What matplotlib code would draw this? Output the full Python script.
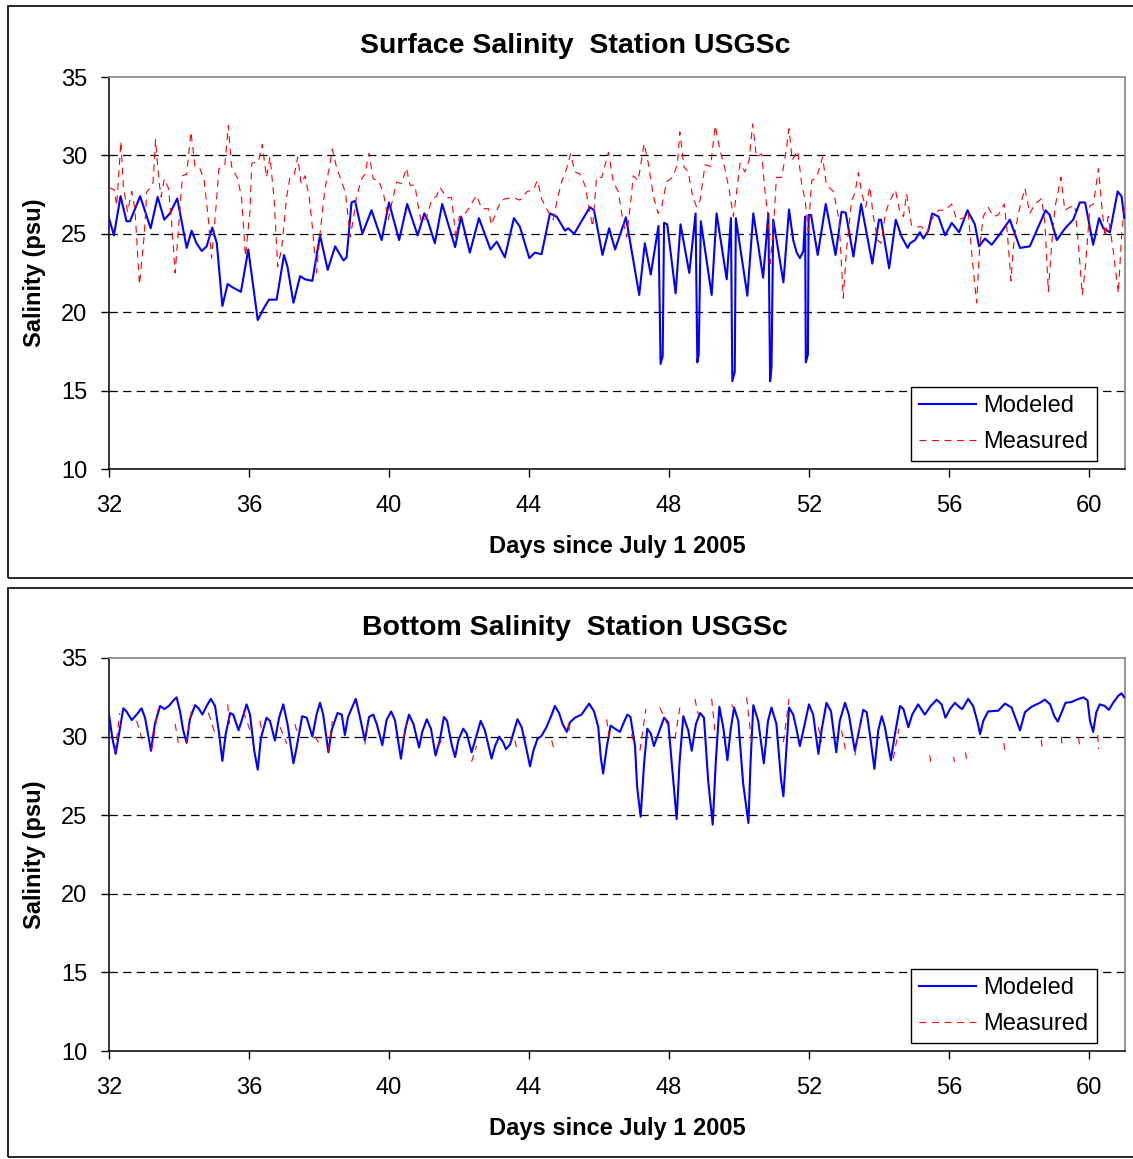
import matplotlib
matplotlib.use("Agg")

import numpy as np
import matplotlib.pyplot as plt
import matplotlib.patches as patches

# ======================
# Data
# ======================

surf_mod_day = [
    32.00, 32.14, 32.33, 32.50, 32.60, 32.89, 33.19, 33.39, 33.58, 33.74, 33.95, 34.22, 34.36, 34.50,
    34.65, 34.79, 34.95, 35.08, 35.24, 35.39, 35.52, 35.77, 35.98, 36.12, 36.25, 36.41, 36.57, 36.79,
    37.00, 37.10, 37.27, 37.46, 37.60, 37.81, 38.03, 38.25, 38.46, 38.70, 38.79, 38.93, 39.03, 39.24,
    39.50, 39.79, 40.00, 40.29, 40.52, 40.82, 41.01, 41.10, 41.31, 41.52,
    41.89, 42.06, 42.31, 42.57, 42.90, 43.08, 43.31, 43.57, 43.74, 44.01, 44.17, 44.36, 44.60, 44.79,
    45.03, 45.12, 45.29, 45.74, 45.86, 46.10, 46.29, 46.46, 46.77, 47.15, 47.31, 47.48, 47.70, 47.76,
    47.82, 47.86, 47.95, 48.19, 48.33, 48.58, 48.76, 48.81, 48.85, 48.91, 49.22, 49.36, 49.65, 49.77,
    49.81, 49.88, 49.91, 50.24, 50.41, 50.69, 50.84, 50.89, 50.93, 50.98, 51.27,
    51.43, 51.55, 51.65, 51.74, 51.84, 51.89, 51.91, 51.97, 51.99, 52.06, 52.25, 52.48, 52.76, 52.93,
    53.05, 53.27, 53.49, 53.81, 54.00, 54.06, 54.29, 54.48, 54.65, 54.82, 54.89, 55.03, 55.17, 55.27,
    55.41, 55.52, 55.70, 55.89, 56.08, 56.29, 56.53, 56.74, 56.86, 57.03, 57.22, 57.46, 57.74, 58.03,
    58.31, 58.76, 58.88, 59.08, 59.32, 59.55, 59.74, 59.89, 60.12, 60.29, 60.41, 60.60, 60.82, 60.93,
    61.01,
]
surf_mod_sal = [
    26.0, 24.9, 27.4, 25.8, 25.8, 27.4, 25.35, 27.35, 25.9, 26.3, 27.25, 24.1, 25.2, 24.4,
    23.9, 24.2, 25.4, 24.4, 20.4, 21.8, 21.6, 21.3, 24.0, 21.65, 19.5, 20.2, 20.8, 20.8,
    23.65, 22.9, 20.6, 22.3, 22.1, 22.0, 24.9, 22.7, 24.2, 23.3, 23.5, 27.0, 27.1, 25.0,
    26.5, 24.6, 27.0, 24.6, 26.9, 24.9, 26.3, 25.9, 24.4, 26.9,
    24.15, 26.1, 23.8, 26.0, 24.0, 24.5, 23.5, 26.0, 25.45, 23.45, 23.8, 23.7, 26.3, 26.1,
    25.2, 25.35, 25.0, 26.7, 26.5, 23.65, 25.35, 24.0, 26.05, 21.1, 24.4, 22.4, 25.5, 16.7,
    17.2, 25.7, 25.6, 21.2, 25.6, 22.5, 26.3, 16.8, 17.3, 25.8, 21.1, 26.3, 22.1, 26.0,
    15.6, 16.2, 26.0, 21.05, 26.3, 22.2, 26.3, 15.6, 16.5, 25.9, 21.9,
    26.55, 24.6, 23.8, 23.45, 23.9, 26.1, 16.8, 17.3, 26.2, 26.2, 23.65, 26.9, 23.65, 26.4,
    26.35, 23.55, 26.9, 23.1, 25.9, 25.9, 22.8, 25.9, 24.8, 24.1, 24.4, 24.6, 25.1, 24.7,
    25.2, 26.3, 26.1, 24.9, 25.7, 25.1, 26.5, 25.6, 24.2, 24.7, 24.3, 25.0, 25.9, 24.1,
    24.2, 26.5, 26.2, 24.6, 25.35, 25.9, 27.0, 27.0, 24.3, 26.0, 25.35, 25.1, 27.7, 27.4,
    26.0,
]

surf_meas_day = [
    32.00, 32.15, 32.22, 32.34, 32.41, 32.53, 32.65, 32.74, 32.87, 33.01, 33.08, 33.20, 33.26, 33.33,
    33.43, 33.49, 33.58, 33.70, 33.79, 33.89, 34.00, 34.10, 34.22, 34.34, 34.46, 34.60, 34.72, 34.84,
    34.93, 35.05, 35.14, 35.31, 35.41, 35.50, 35.68, 35.79, 35.90, 36.03, 36.08, 36.27, 36.38, 36.50,
    36.60, 36.72, 36.82, 36.93, 37.08, 37.17, 37.30, 37.39, 37.49, 37.60, 37.72, 37.81, 37.93, 38.03,
    38.17, 38.29, 38.38, 38.50, 38.65, 38.76, 38.89, 38.98, 39.07, 39.22, 39.31, 39.43, 39.55, 39.70,
    39.84, 39.98, 40.10, 40.22, 40.36, 40.50, 40.60, 40.74, 40.84, 40.93, 41.08, 41.22, 41.36, 41.46,
    41.65, 41.79, 41.91, 42.01, 42.12, 42.27, 42.50, 42.65, 42.84, 42.93, 43.08, 43.22, 43.36, 43.55,
    43.74, 43.95, 44.12, 44.24, 44.36, 44.50, 44.69, 44.79, 44.93, 45.06, 45.19, 45.31, 45.46, 45.60,
    45.72, 45.82, 45.93, 46.08, 46.27, 46.41, 46.55, 46.68, 46.79, 46.90, 46.98, 47.12, 47.29, 47.41,
    47.55, 47.69, 47.79, 47.93, 48.10, 48.24, 48.31, 48.43, 48.55, 48.68, 48.79, 48.89, 49.03, 49.19,
    49.32, 49.46, 49.60, 49.72, 49.84, 49.93, 50.03, 50.17, 50.29, 50.39, 50.50, 50.65, 50.74, 50.84,
    50.89, 50.98, 51.07,
    51.22, 51.32, 51.43, 51.52, 51.68, 51.79, 51.89, 51.98, 52.08, 52.22, 52.39, 52.50, 52.70, 52.86,
    52.98, 53.07, 53.22, 53.31, 53.41, 53.51, 53.62, 53.74, 53.84, 53.96, 54.06, 54.17, 54.27, 54.47,
    54.60, 54.70, 54.79, 54.93, 55.08, 55.22, 55.36, 55.50, 55.70, 55.89, 56.08, 56.22, 56.41, 56.55,
    56.67, 56.79, 56.88, 56.98, 57.12, 57.27, 57.41, 57.58, 57.67, 57.77, 57.86, 57.98, 58.17, 58.31,
    58.46, 58.65, 58.74, 58.84, 58.93, 59.03, 59.20, 59.31, 59.46, 59.60, 59.71, 59.81, 59.90, 60.03,
    60.13, 60.27, 60.36, 60.46, 60.55, 60.69, 60.84, 60.93, 61.01,
]
surf_meas_sal = [
    27.95, 27.8, 26.8, 30.9, 28.0, 26.4, 27.7, 26.6, 21.75, 25.0, 27.7, 27.95, 28.3, 31.0,
    28.3, 27.35, 28.5, 27.9, 25.7, 22.5, 25.7, 28.7, 28.8, 31.5, 29.25, 29.15, 28.4, 25.9,
    23.45, 26.5, 29.15, 29.4, 31.9, 29.3, 28.5, 27.25, 23.55, 26.5, 29.5, 29.6, 30.7, 28.6,
    29.9, 27.15, 22.9, 24.0, 27.4, 28.6, 28.8, 29.9, 28.2, 28.7, 27.35, 25.45, 22.5, 25.0,
    27.9, 29.15, 30.4, 29.25, 28.3, 27.6, 24.8, 25.9, 27.35, 28.5, 28.8, 30.15, 28.5, 28.4,
    27.6, 25.9, 27.15, 28.3, 28.2, 29.2, 28.1, 28.1, 26.7, 25.7, 26.1, 27.15, 27.4, 27.95,
    27.3, 27.3, 24.7, 26.1, 26.1, 26.6, 27.45, 26.6, 26.6, 25.55, 26.5, 27.15, 27.25, 27.3,
    27.15, 27.7, 27.8, 28.4, 27.25, 26.6, 25.9, 27.0, 28.3, 29.05, 30.1, 28.95, 28.8, 28.1,
    26.6, 25.45, 28.6, 28.6, 30.2, 28.3, 27.7, 25.9, 24.8, 26.9, 28.7, 28.4, 30.75, 29.5,
    27.45, 26.3, 26.7, 28.3, 28.6, 29.4, 31.5, 29.25, 28.95, 27.35, 26.7, 27.15, 29.4, 29.3,
    31.9, 30.3, 29.15, 27.8, 26.1, 27.6, 29.5, 28.95, 29.7, 32.0, 29.9, 30.1, 27.8, 25.9,
    23.1, 25.2, 28.6,
    28.6, 29.9, 31.7, 29.7, 30.3, 28.2, 27.15, 25.2, 28.4, 28.6, 29.9, 28.1, 27.7, 25.9,
    20.9, 23.9, 27.15, 27.55, 28.9, 27.55, 26.7, 28.0, 26.1, 24.6, 24.4, 26.1, 26.9, 27.8,
    26.35, 26.1, 27.55, 25.55, 25.45, 25.45, 25.0, 25.9, 26.5, 26.5, 26.9, 25.9, 26.0, 26.4,
    23.3, 20.6, 24.2, 26.1, 26.7, 26.1, 26.2, 26.9, 25.0, 22.0, 24.6, 26.3, 27.9, 26.3,
    26.9, 27.25, 25.7, 21.3, 24.2, 26.7, 28.6, 26.5, 26.7, 26.8, 24.0, 21.1, 22.9, 26.8,
    26.9, 29.15, 26.9, 24.8, 26.1, 24.0, 21.2, 24.8, 26.7,
]

bot_mod_day = [
    32.00, 32.10, 32.19, 32.29, 32.41, 32.50, 32.65, 32.79, 32.93, 33.03, 33.20, 33.31, 33.46, 33.58,
    33.71, 33.84, 33.93, 34.03, 34.12, 34.22, 34.31, 34.46, 34.56, 34.67, 34.79, 34.91, 35.03, 35.14,
    35.24, 35.33, 35.46, 35.55, 35.70, 35.81, 35.93, 36.03, 36.15, 36.25, 36.34, 36.50, 36.60, 36.74,
    36.86, 36.98, 37.10, 37.27, 37.36, 37.52, 37.65, 37.81, 37.93, 38.03, 38.12, 38.27, 38.36, 38.53,
    38.65, 38.74, 38.83, 39.05, 39.17, 39.31, 39.43, 39.55, 39.65, 39.81, 39.93, 40.06, 40.17, 40.34,
    40.46, 40.57, 40.70, 40.86, 40.95, 41.08, 41.20, 41.33, 41.45, 41.57,
    41.66, 41.79, 41.89, 41.98, 42.12, 42.22, 42.36, 42.46, 42.62, 42.74, 42.93, 43.03, 43.15, 43.27,
    43.34, 43.46, 43.67, 43.79, 43.92, 44.03, 44.12, 44.24, 44.36, 44.50, 44.65, 44.74, 44.86, 44.96,
    45.08, 45.17, 45.31, 45.50, 45.72, 45.86, 45.98, 46.05, 46.12, 46.22, 46.33, 46.46, 46.60, 46.69,
    46.81, 46.90, 47.03, 47.09, 47.19, 47.29, 47.38, 47.48, 47.57, 47.70, 47.86, 47.98, 48.08, 48.22,
    48.30, 48.41, 48.55, 48.65, 48.77, 48.89, 49.00, 49.12, 49.25, 49.34, 49.44, 49.55, 49.67, 49.76,
    49.86, 49.98, 50.12, 50.27, 50.33, 50.41, 50.55, 50.71, 50.83, 50.93, 51.07, 51.20, 51.27, 51.33,
    51.43, 51.55, 51.65, 51.74, 51.84, 52.00, 52.12, 52.27, 52.36, 52.50, 52.63, 52.78, 52.88, 53.03,
    53.14, 53.31, 53.41, 53.55, 53.65, 53.74, 53.87, 53.98, 54.08, 54.17, 54.34, 54.44, 54.60, 54.70,
    54.84, 54.95, 55.12, 55.31, 55.48, 55.65, 55.79, 55.90, 56.03, 56.17, 56.31, 56.38, 56.55, 56.69,
    56.82, 56.89, 56.98, 57.12, 57.41, 57.60, 57.79, 57.93, 58.03, 58.17, 58.36, 58.60, 58.74, 58.89,
    59.01, 59.11, 59.22, 59.33, 59.50, 59.65, 59.84, 59.96, 60.03, 60.12, 60.21, 60.31, 60.45, 60.57,
    60.69, 60.84, 60.93, 61.01,
]
bot_mod_sal = [
    31.4, 29.85, 28.9, 30.2, 31.8, 31.6, 31.05, 31.4, 31.8, 31.2, 29.1, 30.8, 31.95, 31.75,
    31.95, 32.3, 32.5, 31.6, 30.4, 29.6, 31.1, 32.0, 31.8, 31.4, 31.95, 32.4, 31.95, 30.3,
    28.45, 30.1, 31.5, 31.4, 30.4, 31.15, 32.05, 31.4, 29.1, 27.9, 29.9, 31.2, 31.0, 29.75,
    31.2, 32.05, 30.8, 28.3, 29.3, 31.3, 31.2, 30.0, 31.4, 32.15, 31.4, 29.0, 30.4, 31.5,
    31.4, 30.1, 31.25, 32.4, 31.25, 29.75, 31.25, 31.4, 30.8, 29.45, 31.05, 31.6, 31.05, 28.6,
    30.4, 31.4, 30.8, 29.3, 30.3, 31.1, 30.5, 28.8, 29.75, 31.25,
    31.0, 29.5, 28.7, 29.75, 30.5, 30.2, 29.0, 29.75, 31.0, 30.4, 28.6, 29.4, 30.0, 29.6,
    29.2, 29.5, 31.1, 30.6, 29.3, 28.1, 29.05, 29.85, 30.05, 30.6, 31.4, 31.95, 31.5, 30.8,
    30.3, 30.9, 31.2, 31.4, 32.1, 31.6, 30.6, 28.7, 27.65, 29.3, 30.7, 30.5, 30.3, 30.8,
    31.4, 31.25, 29.4, 26.8, 24.9, 28.3, 30.5, 30.2, 29.4, 30.2, 31.2, 30.9, 28.3, 24.75,
    28.3, 31.3, 30.4, 29.1, 30.8, 31.5, 31.2, 27.2, 24.4, 28.5, 31.9, 30.6, 28.5, 30.4,
    31.85, 31.0, 27.0, 24.5, 28.3, 32.0, 31.0, 28.3, 31.0, 31.85, 30.8, 27.3, 26.2, 28.3,
    31.85, 31.4, 30.4, 29.4, 30.4, 32.05, 31.4, 28.9, 30.4, 32.15, 31.6, 29.0, 31.0, 32.15,
    31.4, 29.1, 30.15, 31.7, 31.55, 30.15, 27.95, 30.4, 31.3, 30.6, 28.5, 29.95, 31.95, 31.75,
    30.6, 31.4, 32.05, 31.4, 31.95, 32.35, 32.05, 31.2, 31.75, 32.15, 31.85, 31.75, 32.4, 31.95,
    30.9, 30.15, 31.0, 31.6, 31.65, 32.1, 31.85, 31.0, 30.4, 31.55, 31.9, 32.15, 32.35, 32.05,
    31.3, 30.95, 31.55, 32.15, 32.2, 32.35, 32.5, 32.3, 31.0, 30.3, 31.55, 32.05, 31.95, 31.7,
    32.15, 32.6, 32.75, 32.5,
]

# bottom measured: only short visible pieces, gaps marked with nan
nan = np.nan
bot_meas_day = [
    32.17, 32.31, nan, 32.79, 32.98, nan, 33.22, 33.41, nan, 33.89, 33.98, nan, 34.22, 34.38, nan,
    34.84, 35.03, nan, 35.39, 35.46, nan, 35.84, 36.03, nan, 36.31, 36.36, nan, 36.89, 37.08, nan,
    37.31, 37.41, nan, 37.89, 38.03, nan, 38.27, 38.38, nan, 39.31, 39.41, nan, 40.41, 40.50, nan,
    41.41, 41.50, nan, 42.36, 42.50, nan, 43.60, 43.65, nan, 44.65, 44.70, nan, 45.12, 45.19, nan,
    46.22, 46.31, nan, 46.93, 46.98, nan, 47.17, 47.34, nan, 47.74, 48.03, nan, 48.17, 48.31, nan,
    48.74, 48.84, nan, 49.22, 49.31, nan, 49.79, 49.86, nan, 50.22, 50.36, nan, 51.27, 51.43, nan,
    52.27, 52.36, nan, 52.93, 53.05, nan, 53.31, 53.51, nan, 54.41, 54.57, nan, 55.45, 55.48, nan,
    56.13, 56.16, nan, 56.47, 56.50, nan, 57.57, 57.60, nan, 58.64, 58.67, nan, 59.21, 59.24, nan,
    59.70, 59.73, nan, 60.25, 60.28,
]
bot_meas_sal = [
    29.0, 31.5, nan, 31.0, 29.6, nan, 29.2, 31.8, nan, 30.8, 29.6, nan, 29.6, 32.0, nan,
    31.5, 30.2, nan, 32.05, 30.6, nan, 31.6, 30.4, nan, 31.0, 30.5, nan, 30.6, 29.55, nan,
    30.8, 30.0, nan, 30.0, 29.45, nan, 29.1, 31.0, nan, 29.5, 30.9, nan, 29.85, 30.8, nan,
    29.4, 29.75, nan, 28.4, 29.4, nan, 29.75, 29.2, nan, 29.75, 29.3, nan, 30.8, 30.05, nan,
    31.1, 29.6, nan, 30.15, 29.75, nan, 29.1, 31.75, nan, 31.85, 30.4, nan, 29.85, 31.85, nan,
    32.4, 31.4, nan, 32.4, 30.4, nan, 32.05, 31.75, nan, 32.5, 29.65, nan, 29.65, 32.4, nan,
    30.6, 29.65, nan, 30.4, 29.1, nan, 28.8, 31.4, nan, 28.6, 30.5, nan, 28.8, 28.4, nan,
    28.7, 28.4, nan, 29.0, 28.6, nan, 29.6, 28.9, nan, 29.8, 29.1, nan, 30.0, 29.2, nan,
    29.95, 29.5, nan, 30.1, 29.2,
]

x_ticks = [32, 36, 40, 44, 48, 52, 56, 60]
y_ticks = [10, 15, 20, 25, 30, 35]
grid_levels = [15, 20, 25, 30]

# ======================
# Layout helpers
# ======================

W, H = 1133, 1159
plt.rcParams["font.family"] = ["Liberation Sans", "DejaVu Sans"]
plt.rcParams["lines.scale_dashes"] = False

def px_box(left, top, right, bottom):
    # pixel box -> figure fraction [l, b, w, h]
    return [left / W, 1 - bottom / H, (right - left) / W, (bottom - top) / H]

def draw_frame(fig, top, bottom):
    l, b, w, h = px_box(8, top, 1136, bottom)
    fig.add_artist(patches.Rectangle((l, b), w, h, transform=fig.transFigure,
                                     fill=False, lw=1.2, edgecolor="black"))

def style_axes(ax):
    ax.set_xlim(32, 61.03)
    ax.set_ylim(10, 35)
    ax.set_xticks(x_ticks)
    ax.set_yticks(y_ticks)
    ax.tick_params(direction="out", length=5.5, width=1, labelsize=17, colors="black")
    ax.tick_params(axis="x", pad=13)
    ax.tick_params(axis="y", pad=10)
    for s in ("left", "bottom"):
        ax.spines[s].set_color("black")
        ax.spines[s].set_linewidth(1.1)
    for s in ("top", "right"):
        ax.spines[s].set_color("#8c8c8c")
        ax.spines[s].set_linewidth(1.3)
    for g in grid_levels:
        ax.axhline(g, color="black", lw=0.9, linestyle=(0, (6, 3.8)), zorder=1)

def add_legend(ax):
    leg = ax.legend(loc="lower right", bbox_to_anchor=(0.972, 0.02), borderaxespad=0,
                    fontsize=17, frameon=True, fancybox=False, framealpha=1,
                    handlelength=2.4, handletextpad=0.3, borderpad=0.35, labelspacing=0.58)
    leg.get_frame().set_edgecolor("black")
    leg.get_frame().set_linewidth(1.0)

def draw_panel(fig, axes_box, title, title_y, xlabel_y, ylabel_y, mod_x, mod_y, meas_x, meas_y):
    ax = fig.add_axes(axes_box)
    ax.plot(mod_x, mod_y, color="#0000ff", lw=1.5, zorder=3, label="Modeled")
    ax.plot(meas_x, meas_y, color="#ff0000", lw=0.8, linestyle=(0, (5, 4)), zorder=4, label="Measured")
    style_axes(ax)
    add_legend(ax)
    fig.text(575 / W, 1 - title_y / H, title, ha="center", va="center", fontsize=20.5, weight="bold")
    fig.text(617 / W, 1 - xlabel_y / H, "Days since July 1 2005", ha="center", va="center",
             fontsize=17, weight="bold")
    fig.text(35 / W, 1 - ylabel_y / H, "Salinity (psu)", ha="center", va="center",
             fontsize=17, weight="bold", rotation=90)
    return ax

# ======================
# Main
# ======================

fig = plt.figure(figsize=(W / 100, H / 100), dpi=100)
draw_frame(fig, 6, 578)
draw_frame(fig, 588, 1157)

draw_panel(fig, px_box(109, 77, 1125, 469), "Surface Salinity  Station USGSc", 46, 546, 273,
           surf_mod_day, surf_mod_sal, surf_meas_day, surf_meas_sal)
draw_panel(fig, px_box(109, 658, 1125, 1051), "Bottom Salinity  Station USGSc", 628, 1128, 855,
           bot_mod_day, bot_mod_sal, bot_meas_day, bot_meas_sal)

fig.savefig("out.png", dpi=100)
plt.close(fig)
